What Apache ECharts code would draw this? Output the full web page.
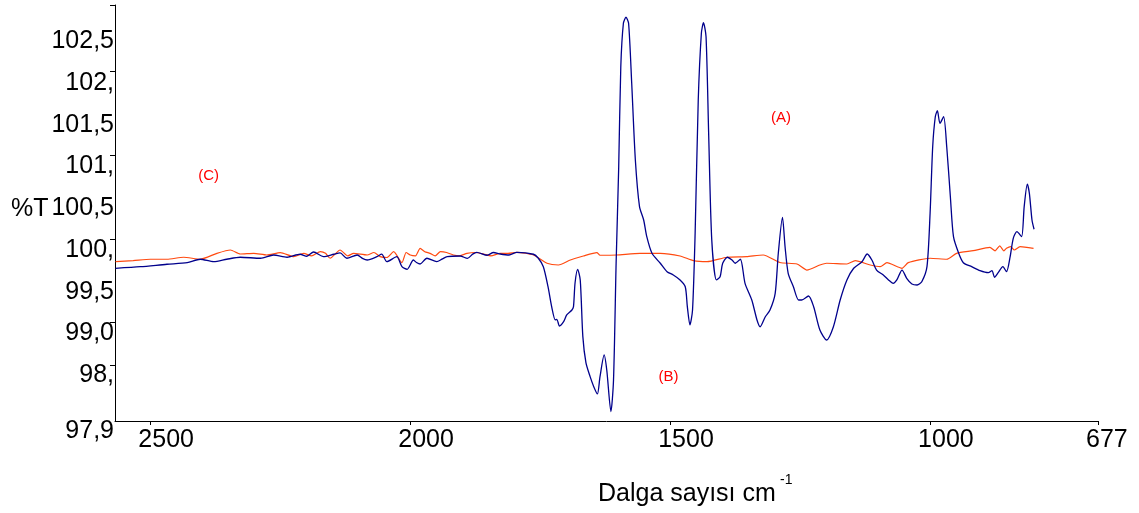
<!DOCTYPE html>
<html>
<head>
<meta charset="utf-8">
<script src="https://cdn.jsdelivr.net/npm/echarts@6/dist/echarts.min.js"></script>
<style>
  html, body { margin: 0; background: #fff; }
  #chart { width: 1139px; height: 513px; }
</style>
</head>
<body>
<div id="chart"></div>
<script>
// x: dalga sayısı (cm-1), y: %T
const spectrumB = [
  [2567, 99.781], [2519, 99.800], [2468, 99.829], [2429, 99.848], [2404, 99.889], [2378, 99.860],
  [2353, 99.889], [2327, 99.913], [2288, 99.901], [2263, 99.940], [2237, 99.913], [2212, 99.949],
  [2199, 99.925], [2186, 99.976], [2167, 99.920], [2147, 99.949], [2135, 99.965], [2122, 99.901],
  [2102, 99.940], [2092, 99.900], [2083, 99.880], [2064, 99.920], [2055, 99.950], [2045, 99.860],
  [2026, 99.920], [2016, 99.800], [2006, 99.769], [1994, 99.880], [1988, 99.850], [1981, 99.832],
  [1968, 99.901], [1949, 99.860], [1939, 99.890], [1929, 99.920], [1904, 99.928], [1890, 99.900],
  [1880, 99.950], [1872, 99.972], [1852, 99.937], [1840, 99.970], [1827, 99.952], [1810, 99.940],
  [1795, 99.972], [1763, 99.949], [1754, 99.904], [1744, 99.800],
  [1735, 99.560], [1728, 99.321], [1721, 99.162], [1718, 99.170], [1713, 99.090], [1705, 99.141],
  [1699, 99.222], [1689, 99.281], [1686, 99.321], [1683, 99.605], [1678, 99.769], [1673, 99.641],
  [1668, 98.962], [1662, 98.647], [1654, 98.483], [1647, 98.363], [1640, 98.276], [1635, 98.483],
  [1627, 98.743], [1622, 98.563], [1614, 98.064], [1609, 98.443], [1604, 99.841], [1599, 100.998],
  [1595, 102.195], [1590, 102.715], [1585, 102.787], [1580, 102.715], [1574, 101.996], [1567, 101.078],
  [1559, 100.519], [1551, 100.359], [1545, 100.159], [1535, 99.961], [1519, 99.841], [1506, 99.740],
  [1494, 99.701], [1481, 99.641], [1471, 99.560], [1467, 99.321], [1462, 99.102], [1457, 99.281],
  [1452, 100.200], [1446, 101.796], [1440, 102.595], [1436, 102.722], [1431, 102.554], [1426, 101.398],
  [1420, 100.120], [1411, 99.641], [1404, 99.680], [1399, 99.841], [1390, 99.913], [1381, 99.880],
  [1375, 99.841], [1365, 99.889], [1356, 99.601], [1343, 99.401], [1333, 99.162], [1327, 99.081],
  [1317, 99.201], [1308, 99.281], [1298, 99.481], [1292, 99.961], [1284, 100.390], [1279, 100.039],
  [1273, 99.721], [1263, 99.560], [1253, 99.401], [1247, 99.401], [1234, 99.449], [1224, 99.321],
  [1212, 99.042], [1199, 98.922], [1186, 99.081], [1173, 99.401], [1160, 99.641], [1147, 99.781],
  [1131, 99.860], [1121, 99.952], [1112, 99.880], [1103, 99.760], [1090, 99.701], [1080, 99.641],
  [1071, 99.601], [1064, 99.641], [1054, 99.760], [1045, 99.661], [1035, 99.593], [1025, 99.581],
  [1016, 99.620], [1006, 99.800], [1000, 100.440], [995, 101.237], [990, 101.596], [986, 101.668],
  [981, 101.517], [974, 101.596], [968, 101.237], [961, 100.638], [955, 100.159], [945, 99.961],
  [936, 99.848], [920, 99.800], [904, 99.752], [888, 99.728], [881, 99.752], [876, 99.673],
  [869, 99.728], [860, 99.800], [853, 99.740], [846, 99.920], [840, 100.140], [833, 100.219],
  [824, 100.159], [819, 100.519], [813, 100.790], [809, 100.679], [804, 100.359], [800, 100.248]
]

const spectrumC = [
  [2567, 99.860], [2533, 99.872], [2500, 99.889], [2468, 99.889], [2436, 99.913], [2404, 99.889],
  [2372, 99.960], [2346, 100.000], [2327, 99.952], [2301, 99.960], [2276, 99.940], [2250, 99.968],
  [2224, 99.920], [2205, 99.960], [2190, 99.930], [2173, 99.980], [2163, 99.960], [2154, 99.901],
  [2135, 100.000], [2120, 99.930], [2109, 99.960], [2083, 99.940], [2070, 99.970], [2058, 99.920],
  [2045, 99.910], [2032, 99.980], [2016, 99.848], [2008, 99.970], [2000, 99.940], [1990, 99.930],
  [1981, 100.020], [1972, 99.980], [1962, 99.960], [1952, 99.930], [1942, 99.980], [1930, 99.970],
  [1917, 99.940], [1905, 99.930], [1891, 99.960], [1875, 99.970], [1859, 99.952], [1845, 99.930],
  [1827, 99.960], [1812, 99.960],
  [1795, 99.972], [1763, 99.940], [1737, 99.841], [1715, 99.820], [1692, 99.880], [1667, 99.928],
  [1641, 99.968], [1635, 99.937], [1603, 99.940], [1558, 99.960], [1519, 99.960], [1481, 99.928],
  [1455, 99.872], [1429, 99.860], [1391, 99.913], [1353, 99.920], [1321, 99.940], [1289, 99.850],
  [1256, 99.832], [1237, 99.760], [1212, 99.820], [1199, 99.841], [1160, 99.832], [1144, 99.872],
  [1115, 99.820], [1096, 99.800], [1083, 99.848], [1054, 99.781], [1042, 99.848], [1000, 99.901],
  [968, 99.889], [949, 99.960], [917, 99.992], [885, 100.032], [875, 99.990], [866, 100.050],
  [858, 99.990], [853, 100.020], [845, 100.040], [838, 100.000], [827, 100.040], [801, 100.020]
]

const xTickValues = [2500, 2000, 1500, 1000, 677]
const yLabelValues = [97.952, 98.5, 99, 99.5, 100, 100.5, 101, 101.5, 102, 102.5]
const yLabelTexts = ['97,9', '98,', '99,0', '99,5', '100,', '100,5', '101,', '101,5', '102,', '102,5']
const yTickValues = [102.93, 102.14, 101.14, 100.13, 99.13, 98.62]

// etiketler: [metin, dalga sayısı, %T]
const notes = [['(A)', 1287, 101.58], ['(B)', 1503, 98.48], ['(C)', 2388, 100.89]]

const FONT = "'Liberation Sans', Arial, sans-serif"

const chart = echarts.init(document.getElementById('chart'))

const yLabel = (v) => {
  let best = 0
  yLabelValues.forEach((y, i) => {
    if (Math.abs(y - v) < Math.abs(yLabelValues[best] - v)) best = i
  })
  return best === 0 ? '{low|' + yLabelTexts[0] + '}' : yLabelTexts[best]
}

const noteMarks = (list) => ({
  symbol: 'circle',
  symbolSize: 0,
  silent: true,
  label: { show: true, position: 'inside', formatter: '{b}', color: '#ff0000', fontSize: 15, fontFamily: FONT },
  data: list.map(n => ({ name: n[0], coord: [n[1], n[2]] }))
})

chart.setOption({
  animation: false,
  backgroundColor: '#fff',
  grid: { left: 115, right: 41, top: 5, bottom: 92 },
  xAxis: {
    type: 'value',
    min: 677,
    max: 2568,
    inverse: true,
    splitLine: { show: false },
    axisLine: { lineStyle: { color: '#000', width: 1 } },
    axisTick: { customValues: xTickValues, length: 4, lineStyle: { color: '#000' } },
    axisLabel: {
      customValues: xTickValues,
      formatter: (v) => String(v),
      align: 'left',
      padding: [0, 0, 0, -12],
      margin: 7,
      color: '#000',
      fontSize: 25,
      fontFamily: FONT
    }
  },
  yAxis: {
    type: 'value',
    min: 97.952,
    max: 102.934,
    splitLine: { show: false },
    axisLine: { show: true, lineStyle: { color: '#000', width: 1 } },
    axisTick: { show: true, customValues: yTickValues, length: 5, lineStyle: { color: '#000' } },
    axisLabel: {
      customValues: yLabelValues,
      formatter: yLabel,
      margin: 1,
      color: '#000',
      fontSize: 25,
      fontFamily: FONT,
      rich: { low: { fontSize: 25, fontFamily: FONT, color: '#000', padding: [20, 0, 0, 0] } }
    }
  },
  graphic: [
    { type: 'text', x: 11, y: 209, style: { text: '%T', fontSize: 25, fontFamily: FONT, fill: '#000', verticalAlign: 'middle' } },
    { type: 'text', x: 598, y: 494, style: { text: 'Dalga sayısı cm', fontSize: 25, fontFamily: FONT, fill: '#000', verticalAlign: 'middle' } },
    { type: 'text', x: 780, y: 480, style: { text: '-1', fontSize: 14, fontFamily: FONT, fill: '#000', verticalAlign: 'middle' } }
  ],
  series: [
    {
      name: 'C',
      type: 'line',
      data: spectrumC,
      showSymbol: false,
      smooth: 0.2,
      lineStyle: { color: '#ff4a10', width: 1.2 },
      markPoint: noteMarks(notes.filter(n => n[0] === '(C)'))
    },
    {
      name: 'B',
      type: 'line',
      data: spectrumB,
      showSymbol: false,
      smooth: 0.25,
      lineStyle: { color: '#00008c', width: 1.3 },
      markPoint: noteMarks(notes.filter(n => n[0] !== '(C)'))
    }
  ]
})
</script>
</body>
</html>
